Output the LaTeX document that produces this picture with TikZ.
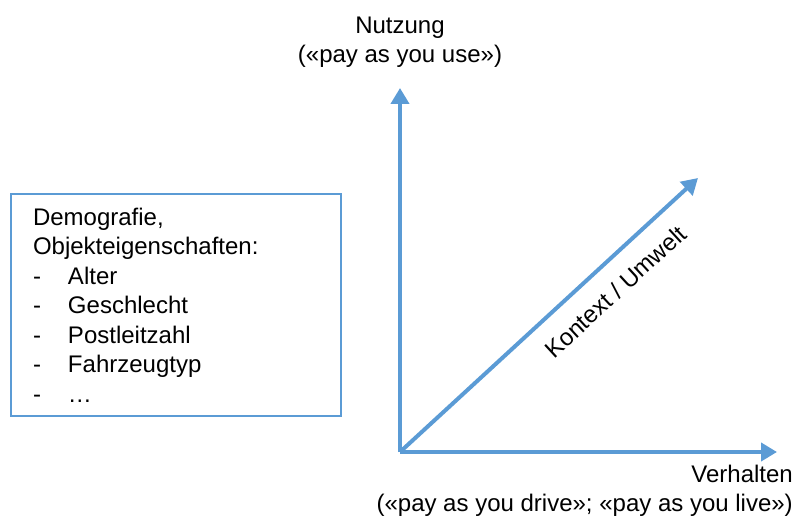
\documentclass[tikz,border=0pt]{standalone}
\usepackage{fontspec}
\setmainfont{Liberation Sans}
\usetikzlibrary{arrows.meta}

\definecolor{axisblue}{RGB}{91,155,213}

\tikzset{
    axis/.style={line width=4pt, draw=axisblue, -{Triangle[length=16pt,width=18pt]}},
    axislabel/.style={font=\fontsize{24}{29.5}\selectfont, inner sep=0pt},
    infobox/.style={draw=axisblue, line width=2pt, font=\fontsize{24}{29.5}\selectfont,
                    minimum width=330pt, minimum height=222pt, text width=286pt,
                    inner xsep=22pt, align=left, anchor=north west}
}

\begin{document}
\begin{tikzpicture}[x=1pt,y=1pt]
                        \useasboundingbox (0,0) rectangle (795,520);
                        \coordinate (o) at (400,68);
                        \coordinate (nutzungtip) at (400,432);
                        \coordinate (verhaltentip) at (777,68);
                        \coordinate (kontexttip) at (698,342);
                        \draw[axis] (o) -- (nutzungtip);
                        \draw[axis] (o) -- (verhaltentip);
                        \draw[axis] (o) -- (kontexttip)
                            node (kontext) [axislabel, pos=0.66, sloped, below=17pt] {Kontext / Umwelt};
                        \node (nutzung) [axislabel, align=center] at (400,478) {Nutzung\\(«pay as you use»)};
                        \node (verhalten) [axislabel, align=right, anchor=east] at (793,29) {Verhalten\\(«pay as you drive»; «pay as you live»)};
                        \node (merkmale) [infobox] at (10,327) {Demografie,\\Objekteigenschaften:\\
                            \makebox[35pt][l]{-}Alter\\
                            \makebox[35pt][l]{-}Geschlecht\\
                            \makebox[35pt][l]{-}Postleitzahl\\
                            \makebox[35pt][l]{-}Fahrzeugtyp\\
                            \makebox[35pt][l]{-}\dots};
                \end{tikzpicture}
\end{document}
